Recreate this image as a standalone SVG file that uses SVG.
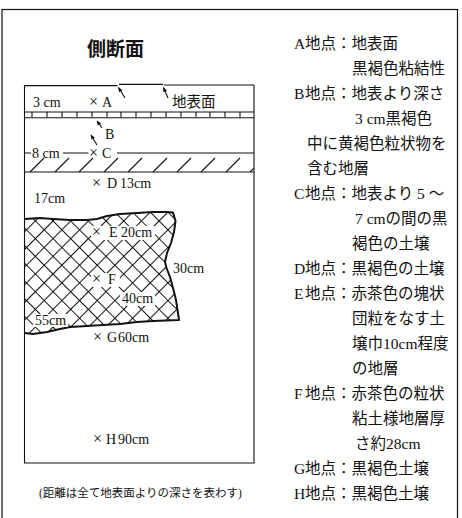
<svg xmlns="http://www.w3.org/2000/svg" width="462" height="518" viewBox="0 0 462 518">
  <style>
    .t{font-family:"Liberation Serif","Noto Sans CJK JP",serif;fill:#111}
    .lab{font-size:14px}
    .x{font-size:16px}
    .jp{font-size:14.5px}
    .leg{font-size:15.5px}
    .foot{font-size:11.5px}
    .title{font-family:"Noto Sans CJK JP",sans-serif;font-size:19px;font-weight:bold;fill:#111}
    .ln{stroke:#111;fill:none;stroke-width:1.1}
    .arrow{stroke:#111;fill:none;stroke-width:1.1;marker-end:url(#ah)}
  </style>
  <defs>
    <!-- diamond crosshatch for the clay lens -->
    <pattern id="cross" width="12.5" height="12.5" patternUnits="userSpaceOnUse" patternTransform="rotate(45)">
      <path d="M0,6.25H12.5M6.25,0V12.5" stroke="#111" stroke-width="1.05"/>
    </pattern>
    <marker id="ah" viewBox="0 0 8 8" refX="7" refY="4" markerWidth="5" markerHeight="5" orient="auto" markerUnits="userSpaceOnUse">
      <path d="M0,0.8 L8,4 L0,7.2 z" fill="#111"/>
    </marker>
    <clipPath id="boxclip">
      <rect x="24.5" y="85" width="229.5" height="378"/>
    </clipPath>
  </defs>

  <rect width="462" height="518" fill="#fff"/>

  <!-- outer frame (bottom edge runs off the page) -->
  <rect id="frame" x="2" y="9.5" width="455.5" height="530" fill="none" stroke="#111" stroke-width="1.2"/>

  <g id="title">
    <text class="title" x="115.5" y="56" text-anchor="middle">側断面</text>
  </g>

  <!-- soil section -->
  <g id="section">
    <!-- ground surface -->
    <path class="ln" d="M24.5,85.6H117.5M119,84.4H163M164,85H254"/>
    <!-- box sides and bottom -->
    <path class="ln" d="M24.5,85V463H254V85" stroke-width="1.2"/>
  </g>

  <g id="layer-b">
    <path class="ln" d="M24.5,112H254"/>
    <path class="ln" d="M32,112v5M47,112v5M62,112v5M77,112v5M92,112v5M107,112v5M121,112v5M136,112v5M151,112v5M166,112v5M181,112v5M196,112v5M210,112v5M225,112v5M240,112v5"/>
    <path class="ln" d="M24.5,117.8H254" stroke-width="1.7"/>
  </g>

  <g id="layer-c">
    <path class="ln" d="M24.5,153H31M63,153H88.5M117,153H254M24.5,172H254"/>
    <g clip-path="url(#boxclip)">
      <path class="ln" d="M30,172l14,-14M55,172l14,-14M79,172l14,-14M104,172l14,-14M128,172l14,-14M153,172l14,-14M177,172l14,-14M201,172l14,-14M226,172l14,-14M250,172l14,-14"/>
    </g>
  </g>

  <g id="layer-ef">
    <path fill="url(#cross)" d="M24.5,219 L40,218 L53,219 L70,220 L87,220 L97,219 L107,216 L120,214 L137,213 L153,212 L167,212 L173,212.5 L175.5,221 L174,232 L171,243 L167,253 L165,262 L166.5,268 L170,277 L173,288 L176,300 L177.5,310 L179,320 L153,321 L137,322 L120,324 L103,325 L87,326 L70,327 L60,329 L47,332 L33,334 L24.5,333 Z"/>
    <path fill="none" stroke="#111" stroke-width="2" stroke-linejoin="round" d="M24.5,219 L40,218 L53,219 L70,220 L87,220 L97,219 L107,216 L120,214 L137,213 L153,212 L167,212 L173,212.5 L175.5,221 L174,232 L171,243 L167,253 L165,262 L166.5,268 L170,277 L173,288 L176,300 L177.5,310 L179,320 L153,321 L137,322 L120,324 L103,325 L87,326 L70,327 L60,329 L47,332 L33,334 L24.5,333"/>
    <!-- knock-outs behind labels inside the hatch -->
    <rect x="91" y="226" width="64" height="14" fill="#fff"/>
    <rect x="91" y="273" width="29" height="14" fill="#fff"/>
    <rect x="120" y="292" width="35" height="14" fill="#fff"/>
    <rect x="33" y="314" width="35" height="13" fill="#fff"/>
  </g>

  <!-- depth labels -->
  <g id="labels" class="t lab">
    <text x="33" y="107">3 cm</text>
    <text y="107"><tspan class="x" x="89">×</tspan><tspan x="102">A</tspan></text>
    <text class="jp" x="172" y="107">地表面</text>
    <text x="105" y="139">B</text>
    <text x="32" y="158">8 cm</text>
    <text y="158"><tspan class="x" x="89">×</tspan><tspan x="102">C</tspan></text>
    <text y="188"><tspan class="x" x="92">×</tspan><tspan x="107">D</tspan><tspan x="120">13cm</tspan></text>
    <text x="34" y="203">17cm</text>
    <text y="237"><tspan class="x" x="92">×</tspan><tspan x="109">E</tspan><tspan x="121">20cm</tspan></text>
    <text x="173" y="273">30cm</text>
    <text y="284"><tspan class="x" x="92">×</tspan><tspan x="108">F</tspan></text>
    <text x="122" y="303">40cm</text>
    <text x="35" y="325">55cm</text>
    <text y="342"><tspan class="x" x="93">×</tspan><tspan x="107">G</tspan><tspan x="118">60cm</tspan></text>
    <text y="444"><tspan class="x" x="93">×</tspan><tspan x="106">H</tspan><tspan x="118">90cm</tspan></text>
  </g>

  <g id="connectors">
    <path class="arrow" d="M125,98 L118.5,87.5"/>
    <path class="arrow" d="M168,98 L163.5,87.5"/>
    <path class="arrow" d="M102,128 L97,121"/>
    <path class="arrow" d="M97,145 L91,135"/>
  </g>

  <g id="footnote">
    <text class="t foot" x="39" y="497">(距離は全て地表面よりの深さを表わす)</text>
  </g>

  <!-- point descriptions -->
  <g id="legend" class="t leg">
    <text y="48.5"><tspan x="294">A</tspan><tspan x="305">地点：地表面</tspan></text>
    <text x="352" y="73.5">黒褐色粘結性</text>
    <text y="98.5"><tspan x="294">B</tspan><tspan x="305">地点：地表より深さ</tspan></text>
    <text x="355" y="123.5">3 cm黒褐色</text>
    <text x="307" y="148.5">中に黄褐色粒状物を</text>
    <text x="307" y="173.5">含む地層</text>
    <text y="198.5"><tspan x="294">C</tspan><tspan x="305">地点：地表より 5 ～</tspan></text>
    <text x="355" y="223.5">7 cmの間の黒</text>
    <text x="352" y="248.5">褐色の土壌</text>
    <text y="273.5"><tspan x="294">D</tspan><tspan x="305">地点：黒褐色の土壌</tspan></text>
    <text y="298.5"><tspan x="294">E</tspan><tspan x="305">地点：赤茶色の塊状</tspan></text>
    <text x="352" y="323.5">団粒をなす土</text>
    <text x="352" y="348.5">壌巾10cm程度</text>
    <text x="352" y="373.5">の地層</text>
    <text y="398.5"><tspan x="294">F</tspan><tspan x="305">地点：赤茶色の粒状</tspan></text>
    <text x="352" y="423.5">粘土様地層厚</text>
    <text x="355" y="448.5">さ約28cm</text>
    <text y="473.5"><tspan x="294">G</tspan><tspan x="305">地点：黒褐色土壌</tspan></text>
    <text y="498.5"><tspan x="294">H</tspan><tspan x="305">地点：黒褐色土壌</tspan></text>
  </g>
</svg>
